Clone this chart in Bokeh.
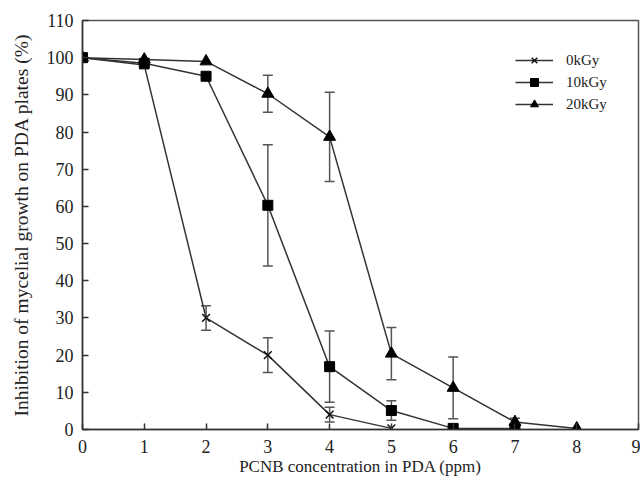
from bokeh.plotting import figure
from bokeh.models import ColumnDataSource, Whisker, TeeHead, Legend, LegendItem, FixedTicker, Range1d
from bokeh.embed import file_html
from bokeh.resources import INLINE

# data
conc_0 = [0, 1, 2, 3, 4, 5]
inh_0 = [100, 98, 30, 20, 4, 0.3]
err_0 = [0, 1, 3.3, 4.7, 2, 0]

conc_10 = [0, 1, 2, 3, 4, 5, 6, 7]
inh_10 = [100, 98.5, 95, 60.3, 16.9, 5.1, 0.3, 0.3]
err_10 = [0, 0.5, 1, 16.3, 9.6, 2.6, 0, 0]

conc_20 = [0, 1, 2, 3, 4, 5, 6, 7, 8]
inh_20 = [100, 99.5, 99, 90.3, 78.7, 20.4, 11.2, 2, 0.3]
err_20 = [0, 0.5, 0.5, 5, 12, 7, 8.3, 1, 0]

labels = ["0kGy", "10kGy", "20kGy"]
x_ticks = list(range(0, 10))
y_ticks = list(range(0, 111, 10))

FONT = "Liberation Serif"
LINE = "#333333"

p = figure(width=640, height=484, output_backend="svg", toolbar_location=None,
           x_range=Range1d(0, 9), y_range=Range1d(0, 110),
           min_border_left=82, min_border_right=2, min_border_top=20, min_border_bottom=55)
p.grid.visible = False
p.outline_line_color = "#555555"
p.outline_line_width = 1.5

for ax in (p.xaxis, p.yaxis):
    ax.major_tick_in = 6
    ax.major_tick_out = 0
    ax.minor_tick_line_color = None
    ax.axis_line_color = LINE
    ax.axis_line_width = 1.5
    ax.major_tick_line_color = LINE
    ax.major_tick_line_width = 1.5
    ax.major_label_text_font = FONT
    ax.major_label_text_font_size = "18px"
    ax.major_label_text_color = "#222222"
    ax.axis_label_text_font = FONT
    ax.axis_label_text_font_style = "normal"
    ax.axis_label_text_color = "#222222"

p.xaxis.axis_label_text_font_size = "17px"
p.yaxis.axis_label_text_font_size = "19.5px"
p.xaxis.ticker = FixedTicker(ticks=x_ticks)
p.yaxis.ticker = FixedTicker(ticks=y_ticks)
p.xaxis.axis_label = "PCNB concentration in PDA (ppm)"
p.yaxis.axis_label = "Inhibition of mycelial growth on PDA plates (%)"
p.xaxis.major_label_standoff = 10
p.xaxis.axis_label_standoff = 1
p.yaxis.major_label_standoff = 9
p.yaxis.axis_label_standoff = 12

series = [
    (conc_0, inh_0, err_0, "x", 11),
    (conc_10, inh_10, err_10, "square", 10),
    (conc_20, inh_20, err_20, "triangle", 12),
]

items = []
for (xs, ys, es, mk, sz), lab in zip(series, labels):
    ex = [x for x, e in zip(xs, es) if e > 0.6]
    ey = [y for y, e in zip(ys, es) if e > 0.6]
    ee = [e for e in es if e > 0.6]
    wsrc = ColumnDataSource(dict(x=ex, lo=[y - e for y, e in zip(ey, ee)], hi=[y + e for y, e in zip(ey, ee)]))
    w = Whisker(source=wsrc, base="x", lower="lo", upper="hi",
                line_color="#555555", line_width=1.5,
                upper_head=TeeHead(size=10, line_color="#555555", line_width=1.5),
                lower_head=TeeHead(size=10, line_color="#555555", line_width=1.5))
    p.add_layout(w)
    src = ColumnDataSource(dict(x=xs, y=ys))
    r1 = p.line("x", "y", source=src, line_color=LINE, line_width=1.5)
    if mk == "x":
        r2 = p.scatter("x", "y", source=src, marker=mk, size=sz, line_color="#111111", line_width=1.5)
    else:
        r2 = p.scatter("x", "y", source=src, marker=mk, size=sz, fill_color="#000000", line_color="#000000")
    items.append(LegendItem(label=lab, renderers=[r1, r2]))

legend = Legend(items=items, location=(433, 315), border_line_color=None,
                background_fill_alpha=0, padding=0, spacing=2,
                glyph_width=38, glyph_height=20, label_standoff=13,
                label_text_font=FONT, label_text_font_size="15px", label_text_color="#222222")
p.add_layout(legend)

open("out.html", "w").write(file_html(p, INLINE))
